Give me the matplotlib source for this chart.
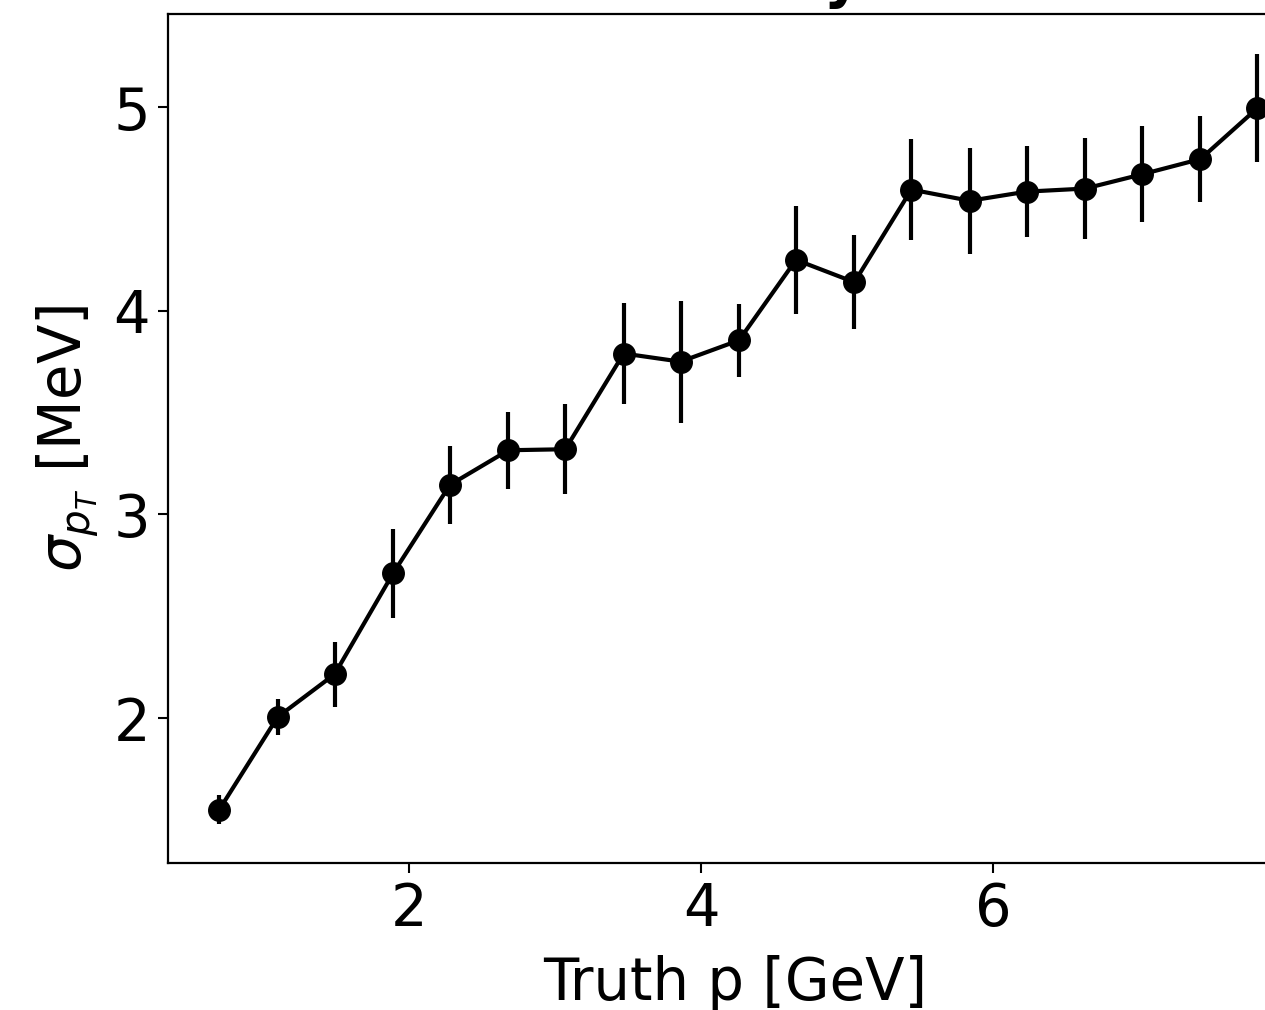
import matplotlib
matplotlib.use("Agg")
import matplotlib.pyplot as plt
import numpy as np

# truth momentum bin centres [GeV]
p_truth = [0.70, 1.10, 1.49, 1.89, 2.28, 2.68, 3.07, 3.47, 3.86, 4.26,
           4.65, 5.05, 5.44, 5.84, 6.23, 6.63, 7.02, 7.42, 7.81]
# pT resolution [MeV]
sigma_pt = [1.55, 2.005, 2.215, 2.71, 3.145, 3.315, 3.32, 3.79, 3.75, 3.855,
            4.25, 4.14, 4.595, 4.54, 4.585, 4.60, 4.67, 4.745, 4.995]
sigma_err = [0.07, 0.09, 0.16, 0.22, 0.19, 0.19, 0.22, 0.25, 0.30, 0.18,
             0.265, 0.23, 0.25, 0.26, 0.225, 0.25, 0.235, 0.21, 0.265]

fig = plt.figure(figsize=(12.65, 10.10), dpi=100)
ax = fig.add_axes([0.1328, 0.1455, 0.8964, 0.8406])

ax.errorbar(p_truth, sigma_pt, yerr=sigma_err, fmt="o-", color="black",
            markersize=15.5, linewidth=3.0, elinewidth=3.0)

ax.set_xlim(0.349, 8.115)
ax.set_ylim(1.288, 5.457)
ax.set_xticks([2, 4, 6])
ax.set_yticks([2, 3, 4, 5])

ax.set_xlabel("Truth p [GeV]", fontsize=41.5, labelpad=12)
ax.set_ylabel(r"$\sigma_{p_T}$ [MeV]", fontsize=41.5, labelpad=9)
ax.tick_params(labelsize=41.5, width=1.5, length=7, pad=6)
for s in ax.spines.values():
    s.set_linewidth(1.6)

ax.set_title("Track Resolution by Momentum", fontsize=41.5, fontweight="bold", pad=12)

fig.savefig("out.png", dpi=100)
